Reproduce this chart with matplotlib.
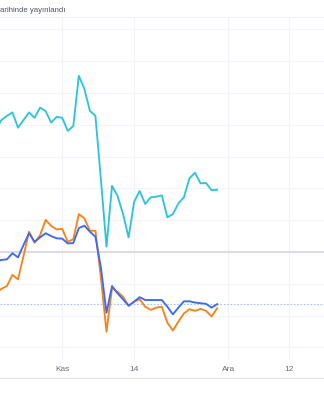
import matplotlib
matplotlib.use("Agg")
import matplotlib.pyplot as plt
import matplotlib.dates as mdates
from matplotlib.lines import Line2D
import datetime as dt

# ---- data (percent change, daily) ----
start = dt.date(2022, 10, 20)
cyan = [38.4, 41.5, 42.8, 43.9, 39.1, 41.5, 43.9, 42.2, 45.4, 44.3, 40.7, 42.5,
        42.2, 38.1, 39.6, 55.4, 51.3, 44.4, 42.8, 22.6, 1.7, 20.8, 17.6, 11.9,
        4.6, 15.8, 19.2, 15.1, 17.2, 17.4, 17.8, 10.9, 11.9, 15.3, 17.2, 23.2,
        24.9, 21.6, 21.7, 19.4, 19.6]
blue = [-3.1, -2.5, -2.3, -0.4, -1.7, 2.2, 5.9, 3.2, 4.6, 5.9, 5.0, 4.3,
        4.2, 2.7, 2.8, 7.5, 8.3, 6.4, 4.8, -5.0, -19.1, -10.7, -13.0, -14.9,
        -16.9, -15.6, -14.2, -15.1, -15.1, -15.1, -15.1, -17.2, -19.6, -17.5, -15.5, -15.5,
        -15.9, -16.1, -16.3, -17.5, -16.4]
orange = [-12.9, -11.6, -10.7, -7.2, -8.6, -1.3, 6.4, 2.9, 5.3, 10.1, 8.2, 7.1,
          7.3, 3.2, 4.0, 11.9, 10.6, 6.7, 6.7, -8.2, -25.1, -11.4, -12.5, -14.1,
          -16.9, -15.6, -14.9, -17.2, -18.2, -17.5, -17.2, -22.2, -24.7, -21.9, -19.3, -18.0,
          -18.5, -17.9, -18.5, -20.3, -17.7]
dates = [start + dt.timedelta(days=i) for i in range(len(cyan))]

tick_dates = [dt.date(2022, 11, 1), dt.date(2022, 11, 14), dt.date(2022, 12, 1), dt.date(2022, 12, 12)]
tick_labels = ["Kas", "14", "Ara", "12"]
title_text = "arihinde yayınlandı"

W, H = 324, 400
fig = plt.figure(figsize=(W / 100, H / 100), dpi=100)
fig.patch.set_facecolor("white")

top_px, bot_px = 17, 360
ax = fig.add_axes([0, 1 - bot_px / H, 1, (bot_px - top_px) / H])
ax.set_facecolor("white")

x0 = mdates.date2num(dt.datetime(2022, 11, 1)) - 11.25
x1 = mdates.date2num(dt.datetime(2022, 12, 12)) + 6.32
ax.set_xlim(x0, x1)
ax.set_ylim(-33.96, 73.9)

grid_c = "#f0f3fa"
for v in [-30, -20, -10, 10, 20, 30, 40, 50, 60, 70]:
    ax.axhline(v, color=grid_c, lw=0.8, zorder=0)
for d in tick_dates:
    ax.axvline(mdates.date2num(d), color=grid_c, lw=0.8, zorder=0)

ax.axhline(0, color="#dcdde2", lw=1.6, zorder=1)
ax.axhline(blue[-1], color="#a8bfff", lw=0.8, ls=(0, (1.5, 1.5)), zorder=1)

ax.plot(dates, cyan, color="#2fc4dc", lw=1.35, zorder=3, solid_joinstyle="round")
ax.plot(dates, orange, color="#f7841b", lw=1.35, zorder=4, solid_joinstyle="round")
ax.plot(dates, blue, color="#3a6cf4", lw=1.35, zorder=5, solid_joinstyle="round")

for s in ["left", "right", "bottom"]:
    ax.spines[s].set_visible(False)
ax.spines["top"].set_color(grid_c)
ax.spines["top"].set_linewidth(0.8)

ax.set_yticks([])
ax.set_xticks([mdates.date2num(d) for d in tick_dates])
ax.set_xticklabels(tick_labels, fontsize=6, color="#6a6d78", family="Liberation Sans")
ax.tick_params(axis="x", length=0, pad=4.5)

# bottom border line
fig.add_artist(Line2D([0, 1], [1 - 377.5 / H, 1 - 377.5 / H], color="#e6e8ee", lw=0.9,
                      transform=fig.transFigure))

fig.text(0, 1 - 10 / H, title_text, fontsize=5.6, color="#50535e", va="center", ha="left",
         family="Liberation Sans")

fig.savefig("out.png", dpi=100, facecolor="white")
